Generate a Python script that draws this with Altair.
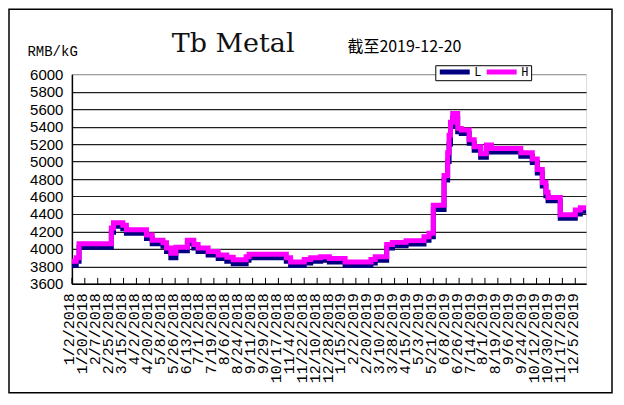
import altair as alt
import pandas as pd

# ---- data (change points of the daily series) ----
dates = [
    "2018-01-02", "2018-01-08", "2018-01-12", "2018-02-26", "2018-03-01",
    "2018-03-14", "2018-03-19", "2018-04-16", "2018-04-24", "2018-05-09",
    "2018-05-14", "2018-05-20", "2018-05-27", "2018-06-12", "2018-06-21",
    "2018-06-27", "2018-07-11", "2018-07-25", "2018-08-06", "2018-08-15",
    "2018-09-02", "2018-09-06", "2018-10-28", "2018-11-03", "2018-11-22",
    "2018-12-01", "2018-12-15", "2018-12-27", "2019-01-18", "2019-02-23",
    "2019-03-01", "2019-03-17", "2019-03-25", "2019-04-13", "2019-05-08",
    "2019-05-15", "2019-05-21", "2019-06-05", "2019-06-10", "2019-06-12",
    "2019-06-14", "2019-06-17", "2019-06-24", "2019-06-29", "2019-07-10",
    "2019-07-17", "2019-07-26", "2019-08-03", "2019-08-10", "2019-09-20",
    "2019-10-06", "2019-10-13", "2019-10-20", "2019-10-25", "2019-10-28",
    "2019-11-14", "2019-12-05", "2019-12-12", "2019-12-20",
]
high = [
    3860, 3900, 4060, 4240, 4300,
    4270, 4220, 4160, 4100, 4070,
    4010, 3950, 4020, 4100, 4050,
    4010, 3970, 3930, 3905, 3875,
    3910, 3940, 3900, 3850, 3880,
    3900, 3910, 3890, 3850, 3880,
    3910, 4050, 4075, 4095, 4140,
    4180, 4500, 4840, 5100, 5300,
    5450, 5550, 5380, 5360, 5250,
    5170, 5090, 5190, 5150, 5100,
    5030, 4910, 4760, 4650, 4590,
    4390, 4445, 4470, 4470,
]
low = [
    3810, 3860, 4020, 4190, 4260,
    4230, 4180, 4120, 4060, 4030,
    3970, 3900, 3980, 4060, 4010,
    3970, 3930, 3890, 3860, 3830,
    3870, 3900, 3860, 3810, 3840,
    3860, 3870, 3850, 3810, 3840,
    3870, 4010, 4035, 4055, 4100,
    4140, 4450, 4790, 5000, 5200,
    5400, 5500, 5340, 5320, 5210,
    5130, 5050, 5150, 5110, 5060,
    4990, 4870, 4720, 4610, 4550,
    4350, 4400, 4430, 4430,
]
series_names = ["L", "H"]
series_colors = ["#000080", "#FF00FF"]

tick_dates = [
    "2018-01-02", "2018-01-20", "2018-02-07", "2018-02-25", "2018-03-15",
    "2018-04-02", "2018-04-20", "2018-05-08", "2018-05-26", "2018-06-13",
    "2018-07-01", "2018-07-19", "2018-08-06", "2018-08-24", "2018-09-11",
    "2018-09-29", "2018-10-17", "2018-11-04", "2018-11-22", "2018-12-10",
    "2018-12-28", "2019-01-15", "2019-02-02", "2019-02-20", "2019-03-10",
    "2019-03-28", "2019-04-15", "2019-05-03", "2019-05-21", "2019-06-08",
    "2019-06-26", "2019-07-14", "2019-08-01", "2019-08-19", "2019-09-06",
    "2019-09-24", "2019-10-12", "2019-10-30", "2019-11-17", "2019-12-05",
]
y_ticks = [3600, 3800, 4000, 4200, 4400, 4600, 4800, 5000, 5200, 5400, 5600, 5800, 6000]

chart_title = "Tb Metal"
date_note = "截至2019-12-20"
unit_label = "RMB/kG"
x_start, x_end = "2018-01-02", "2019-12-20"

# ---- tables ----
df = pd.DataFrame({"date": dates, "L": low, "H": high}).melt(
    "date", var_name="series", value_name="price")
ticks_df = pd.DataFrame({"date": tick_dates})


def ms(d):
    return int(pd.Timestamp(d, tz="UTC").timestamp() * 1000)


tick_ms = [ms(d) for d in tick_dates]

W, H = 515, 210

x_scale = alt.Scale(type="utc", domain=[ms(x_start), ms(x_end)], nice=False)


def make_x_axis():
    return alt.Axis(
        values=tick_ms, labelExpr="utcFormat(datum.value, '%-m/%-d/%Y')",
        labelAngle=270, labelAlign="right", labelBaseline="middle",
        labelFont="Liberation Mono", labelFontSize=15, labelColor="black",
        labelPadding=9, labelOffset=-3, labelOverlap=False, labelFlush=False,
        labelBound=False, labelSeparation=0,
        ticks=False, tickSize=0, grid=False, domainColor="black", domainWidth=1.5,
        title=None,
    )


y_axis = alt.Axis(
    values=y_ticks, format="d", labelFont="Liberation Sans", labelFontSize=15,
    labelColor="black", labelPadding=9, ticks=False, tickSize=0,
    domainColor="black", domainWidth=1.5, grid=True,
    gridColor=alt.condition("datum.value == 6000", alt.value("#a0a0a0"), alt.value("#202020")),
    gridWidth=1.2,
    title=unit_label, titleAngle=0, titleAlign="left", titleBaseline="alphabetic",
    titleX=-45, titleY=-19, titleFont="Liberation Mono", titleFontSize=14,
    titleFontWeight="normal", titleColor="black",
)

lines = alt.Chart(df).mark_line(
    interpolate="step-after", strokeWidth=5, strokeCap="butt", strokeJoin="miter"
).encode(
    x=alt.X("date:T", scale=x_scale, axis=make_x_axis()),
    y=alt.Y("price:Q", scale=alt.Scale(domain=[3600, 6000], nice=False, zero=False), axis=y_axis),
    color=alt.Color(
        "series:N",
        scale=alt.Scale(domain=series_names, range=series_colors),
        legend=alt.Legend(
            orient="none", legendX=364, legendY=-9, direction="horizontal",
            title=None, symbolType="stroke", symbolSize=900, symbolStrokeWidth=5,
            labelFont="Liberation Mono", labelFontSize=12, labelColor="black",
            labelOffset=2, columnPadding=2, padding=2, clipHeight=9,
            strokeColor="black", fillColor="white",
        ),
    ),
)

tick_marks = alt.Chart(ticks_df).mark_rule(color="black", strokeWidth=1).encode(
    x=alt.X("date:T", scale=x_scale, axis=make_x_axis()), y=alt.value(H - 6), y2=alt.value(H)
)

title_text = alt.Chart(pd.DataFrame({"t": [chart_title]})).mark_text(
    font="DejaVu Serif", fontSize=27, align="left", baseline="alphabetic", color="#111111"
).encode(x=alt.value(100), y=alt.value(-22), text="t:N")

note_text = alt.Chart(pd.DataFrame({"t": [date_note]})).mark_text(
    font="Noto Sans CJK SC", fontSize=16, align="left", baseline="alphabetic", color="black"
).encode(x=alt.value(276), y=alt.value(-22), text="t:N")

frame = alt.Chart(pd.DataFrame({"a": [0]})).mark_rect(
    fillOpacity=0, stroke="black", strokeWidth=1.5
).encode(x=alt.value(-63), y=alt.value(-65), x2=alt.value(541), y2=alt.value(319))

chart = alt.layer(frame, lines, tick_marks, title_text, note_text).properties(
    width=W, height=H,
    autosize=alt.AutoSizeParams(type="none"),
    padding={"left": 64, "top": 66, "right": 30, "bottom": 114},
).configure_view(stroke="#a0a0a0", strokeWidth=1).configure(background="white")

chart.save("out.html", embed_options={"renderer": "svg", "actions": False})
